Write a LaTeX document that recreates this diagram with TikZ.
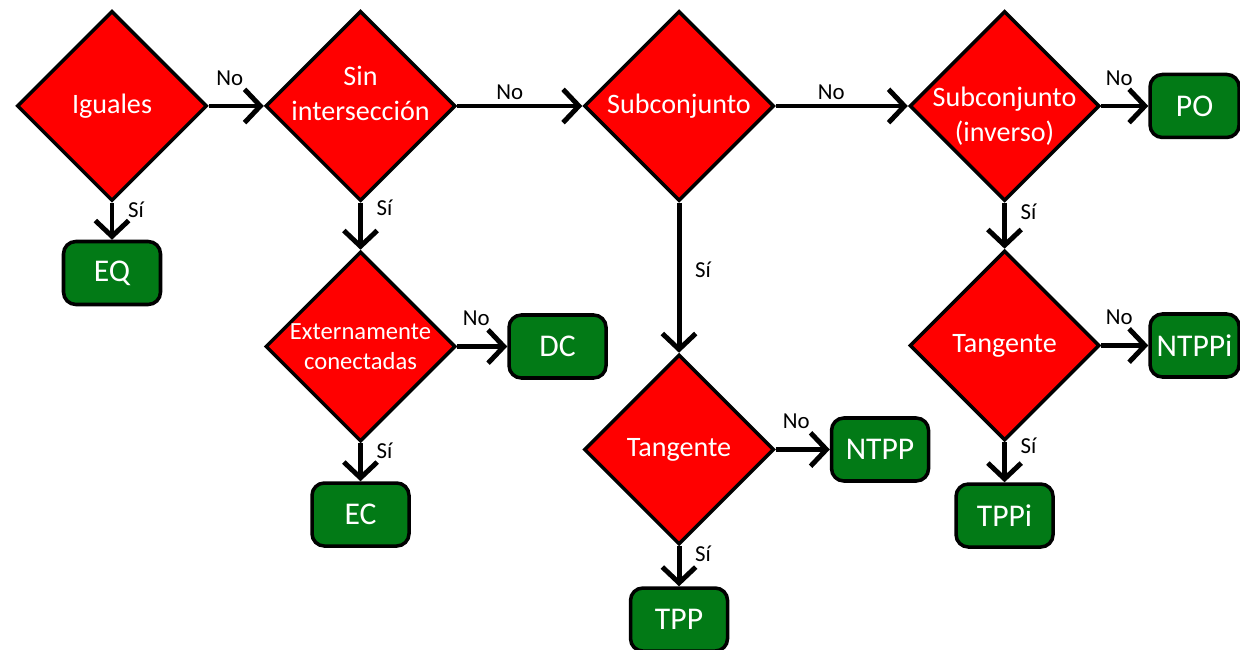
\documentclass[tikz,border=0pt]{standalone}
\usepackage{fontspec}
\setmainfont{Carlito}
\usetikzlibrary{shapes.geometric, arrows.meta, positioning}
\definecolor{decred}{RGB}{255,0,0}
\definecolor{leafgreen}{RGB}{2,122,22}
\tikzset{
  decision/.style={diamond,aspect=1,draw=black,line width=2pt,fill=decred,text=white,minimum width=3.8cm,minimum height=3.8cm,inner sep=-3pt,align=center,font=\fontsize{16}{20}\selectfont},
  smalldecision/.style={decision,font=\fontsize{14}{17}\selectfont},
  result/.style={rectangle,rounded corners=7pt,draw=black,line width=2pt,fill=leafgreen,text=white,minimum width=1.94cm,minimum height=1.26cm,font=\fontsize{18}{22}\selectfont},
  narrowresult/.style={result,minimum width=1.78cm},
  arr/.style={-{Straight Barb[length=9pt,width=19pt]},line width=2.8pt},
  lbl/.style={font=\fontsize{13}{15}\selectfont},
  nolbl/.style={lbl,pos=0.38,yshift=0.56cm},
  nolong/.style={lbl,pos=0.42,yshift=0.28cm},
  silbl/.style={lbl,pos=0.2,xshift=0.48cm}
}
% two-line text, raised by #1 from the centre of its node
\newcommand{\twolines}[3]{\raisebox{#1}[0pt][0pt]{\begin{tabular}{@{}c@{}}#2\\#3\end{tabular}}}

\begin{document}
\begin{tikzpicture}
  \useasboundingbox (0,0) rectangle (24.8,13);
  %% Top row of decisions
  \node[decision] (iguales) at (2.24,10.88) {Iguales};
  \node[decision,right=1.1cm of iguales] (sinint) {\twolines{0.05cm}{Sin}{intersección}};
  \node[decision,right=2.5cm of sinint] (subconj) {Subconjunto};
  \node[decision,right=2.64cm of subconj] (subinv) {\twolines{-0.38cm}{Subconjunto}{(inverso)}};
  \node[narrowresult,right=0.94cm of subinv] (po) {PO};

  %% Iguales / Sin interseccion branches
  \node[result,below=0.74cm of iguales] (eq) {EQ};
  \node[smalldecision,below=0.94cm of sinint] (extcon) {Externamente\\conectadas};
  \node[result,right=1.0cm of extcon] (dc) {DC};
  \node[result,below=0.76cm of extcon] (ec) {EC};

  %% Subconjunto branch
  \node[decision,below=3.0cm of subconj] (tangm) {Tangente};
  \node[result,right=1.08cm of tangm] (ntpp) {NTPP};
  \node[result,below=0.8cm of tangm] (tpp) {TPP};

  %% Subconjunto (inverso) branch
  \node[decision,below=0.92cm of subinv] (tangr) {Tangente};
  \node[narrowresult,right=0.94cm of tangr] (ntppi) {NTPPi};
  \node[result,below=0.8cm of tangr] (tppi) {TPPi};

  \draw[arr] (iguales) -- node[nolbl] {No} (sinint);
  \draw[arr] (sinint) -- node[nolong] {No} (subconj);
  \draw[arr] (subconj) -- node[nolong] {No} (subinv);
  \draw[arr] (subinv) -- node[nolbl] {No} (po);
  \draw[arr] (extcon) -- node[nolbl] {No} (dc);
  \draw[arr] (tangm) -- node[nolbl] {No} (ntpp);
  \draw[arr] (tangr) -- node[nolbl] {No} (ntppi);

  \draw[arr] (iguales) -- node[silbl] {Sí} (eq);
  \draw[arr] (sinint) -- node[silbl,pos=0.1] {Sí} (extcon);
  \draw[arr] (extcon) -- node[silbl] {Sí} (ec);
  \draw[arr] (subconj) -- node[silbl,pos=0.45] {Sí} (tangm);
  \draw[arr] (tangm) -- node[silbl] {Sí} (tpp);
  \draw[arr] (subinv) -- node[silbl] {Sí} (tangr);
  \draw[arr] (tangr) -- node[silbl,pos=0.1] {Sí} (tppi);
\end{tikzpicture}
\end{document}
